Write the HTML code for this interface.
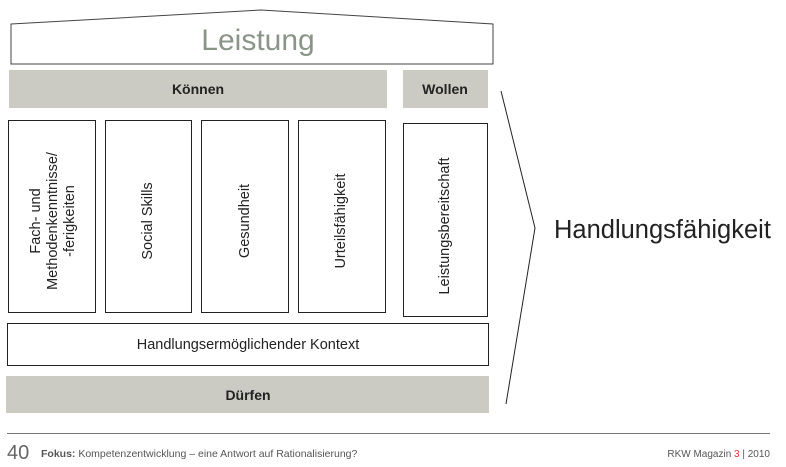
<!DOCTYPE html>
<html><head><meta charset="utf-8"><style>
html,body{margin:0;padding:0;background:#fff;width:786px;height:467px;overflow:hidden}
svg{display:block;font-family:"Liberation Sans",sans-serif}
</style></head><body>
<svg width="786" height="467" viewBox="0 0 786 467">
<polygon points="11,24 261,10 493,24 493,64 11,64" fill="#fff" stroke="#444" stroke-width="1"/>
<text x="258" y="50" font-size="30" fill="#8a9488" text-anchor="middle">Leistung</text>
<rect x="9" y="70" width="378" height="38" fill="#cbcbc4"/>
<text x="198" y="94" font-size="14" font-weight="bold" fill="#222" text-anchor="middle">Können</text>
<rect x="403" y="70" width="85" height="38" fill="#cbcbc4"/>
<text x="445" y="94" font-size="14" font-weight="bold" fill="#222" text-anchor="middle">Wollen</text>
<g fill="#fff" stroke="#222" stroke-width="1">
<rect x="8.5" y="120.5" width="87" height="192"/>
<rect x="105.5" y="120.5" width="86" height="192"/>
<rect x="201.5" y="120.5" width="87" height="192"/>
<rect x="298.5" y="120.5" width="87" height="192"/>
<rect x="403.5" y="123.5" width="84" height="193"/>
<rect x="7.5" y="323.5" width="481" height="42"/>
</g>
<g font-size="14.5" fill="#222" text-anchor="middle">
<text transform="translate(40,221) rotate(-90)">Fach- und</text>
<text transform="translate(57,221) rotate(-90)">Methodenkenntnisse/</text>
<text transform="translate(74,221) rotate(-90)">-ferigkeiten</text>
<text transform="translate(152,221) rotate(-90)">Social Skills</text>
<text transform="translate(249,221) rotate(-90)">Gesundheit</text>
<text transform="translate(345,221) rotate(-90)">Urteilsfähigkeit</text>
<text transform="translate(449,226) rotate(-90)">Leistungsbereitschaft</text>
<text x="248" y="349">Handlungsermöglichender Kontext</text>
</g>
<rect x="6" y="376" width="483" height="37" fill="#cbcbc4"/>
<text x="248" y="400" font-size="14" font-weight="bold" fill="#222" text-anchor="middle">Dürfen</text>
<polyline points="501,91 535,228 506,404" fill="none" stroke="#222" stroke-width="1"/>
<text x="554" y="238" font-size="25.5" fill="#222">Handlungsfähigkeit</text>
<line x1="7" y1="433.5" x2="770" y2="433.5" stroke="#777" stroke-width="1"/>
<text x="7" y="459" font-size="20" fill="#666">40</text>
<text x="41" y="457" font-size="10.5" fill="#555"><tspan font-weight="bold">Fokus:</tspan> Kompetenzentwicklung – eine Antwort auf Rationalisierung?</text>
<text x="770" y="457" font-size="10" fill="#555" text-anchor="end">RKW Magazin <tspan fill="#d33">3</tspan> | 2010</text>
</svg>
</body></html>
